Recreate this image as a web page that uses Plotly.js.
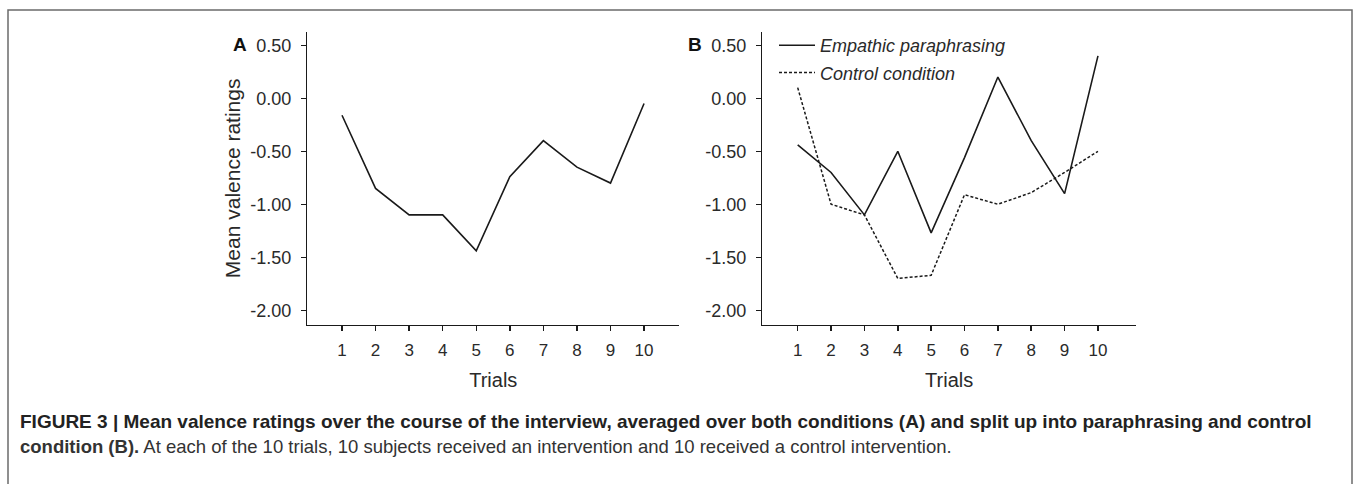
<!DOCTYPE html>
<html>
<head>
<meta charset="utf-8">
<script src="https://cdn.plot.ly/plotly-3.0.1.min.js"></script>
<style>
html,body{margin:0;padding:0;background:#fff;}
#chart{width:1356px;height:484px;}
</style>
</head>
<body>
<div id="chart"></div>
<script>
// ---- Data ----
var trials = [1, 2, 3, 4, 5, 6, 7, 8, 9, 10];
var bothConditions = [-0.16, -0.85, -1.10, -1.10, -1.44, -0.74, -0.40, -0.65, -0.80, -0.05];
var empathicParaphrasing = [-0.44, -0.70, -1.10, -0.50, -1.27, -0.56, 0.20, -0.40, -0.90, 0.40];
var controlCondition = [0.10, -1.00, -1.10, -1.70, -1.67, -0.91, -1.00, -0.89, -0.70, -0.50];
var seriesNames = ["Empathic paraphrasing", "Control condition"];
var yTickVals = [-2.0, -1.5, -1.0, -0.5, 0.0, 0.5];
var yTickText = ["-2.00", "-1.50", "-1.00", "-0.50", "0.00", "0.50"];
var xTickVals = [1, 2, 3, 4, 5, 6, 7, 8, 9, 10];
var xTickText = ["1", "2", "3", "4", "5", "6", "7", "8", "9", "10"];
var yTitle = "Mean valence ratings";
var xTitle = "Trials";
var panelLabels = ["A", "B"];
var captionBold1 = "FIGURE 3 | Mean valence ratings over the course of the interview, averaged over both conditions (A) and split up into paraphrasing and control";
var captionBold2 = "condition (B).";
var captionRest = " At each of the 10 trials, 10 subjects received an intervention and 10 received a control intervention.";

// ---- Layout helpers ----
var W = 1356, H = 484;
function px(x) { return x / W; }
function py(y) { return 1 - y / H; }

var FONT = "Liberation Sans, Arial, Helvetica, sans-serif";
var INK = "#1a1a1a";
var TXT = "#2a2a2a";

var traces = [
  {
    x: trials, y: bothConditions, xaxis: "x", yaxis: "y",
    type: "scatter", mode: "lines", showlegend: false,
    line: {color: INK, width: 1.6}
  },
  {
    x: trials, y: empathicParaphrasing, xaxis: "x2", yaxis: "y2",
    type: "scatter", mode: "lines", name: seriesNames[0], legendgroup: "a",
    line: {color: INK, width: 1.6}
  },
  {
    x: trials, y: controlCondition, xaxis: "x2", yaxis: "y2",
    type: "scatter", mode: "lines", name: seriesNames[1], legendgroup: "b",
    line: {color: INK, width: 1.5, dash: "3px,2px"}
  }
];

var yDomain = [py(324.7), py(32)];
var yRange = [-2.136, 0.625];

function xAxis(domain, range) {
  return {
    domain: domain, range: range, anchor: null,
    showline: true, linecolor: INK, linewidth: 1.5,
    showgrid: false, zeroline: false,
    ticks: "outside", ticklen: 5, tickwidth: 1.5, tickcolor: INK,
    tickmode: "array", tickvals: xTickVals, ticktext: xTickText,
    ticklabelstandoff: 4,
    tickfont: {family: FONT, size: 17, color: TXT},
    title: {text: xTitle, font: {family: FONT, size: 20, color: TXT}, standoff: 14},
    fixedrange: true
  };
}
function yAxis(domain, withTitle) {
  var a = {
    domain: domain, range: yRange,
    showline: true, linecolor: INK, linewidth: 1.5,
    showgrid: false, zeroline: false,
    ticks: "outside", ticklen: 5, tickwidth: 1.5, tickcolor: INK,
    tickmode: "array", tickvals: yTickVals, ticktext: yTickText,
    ticklabelstandoff: 6,
    tickfont: {family: FONT, size: 18, color: TXT},
    fixedrange: true
  };
  if (withTitle) {
    a.title = {text: yTitle, font: {family: FONT, size: 21, color: TXT}, standoff: 4};
  }
  return a;
}

var xa = xAxis([px(307.3), px(679.3)], [-0.034, 11.05]);
xa.anchor = "y";
var xb = xAxis([px(762.3), px(1136)], [-0.061, 11.14]);
xb.anchor = "y2";
var ya = yAxis(yDomain, true); ya.anchor = "x";
var yb = yAxis(yDomain, false); yb.anchor = "x2";

var layout = {
  width: W, height: H,
  margin: {l: 0, r: 0, t: 0, b: 0},
  paper_bgcolor: "#fff", plot_bgcolor: "rgba(0,0,0,0)",
  font: {family: FONT, color: TXT},
  xaxis: xa, yaxis: ya, xaxis2: xb, yaxis2: yb,
  showlegend: true,
  legend: {
    x: px(774), y: py(27), xanchor: "left", yanchor: "top",
    bgcolor: "rgba(0,0,0,0)", borderwidth: 0,
    font: {family: FONT, size: 18, color: TXT, style: "italic"},
    itemwidth: 36, traceorder: "grouped", tracegroupgap: 1
  },
  shapes: [
    {type: "path", xref: "paper", yref: "paper",
     path: "M " + px(8) + "," + (-0.05) + " L " + px(8) + "," + py(10) + " L " + px(1352) + "," + py(10) + " L " + px(1352) + "," + (-0.05),
     line: {color: "#6b6b6b", width: 1.5}}
  ],
  annotations: [
    {xref: "paper", yref: "paper", x: px(240), y: py(45), xanchor: "center", yanchor: "middle",
     text: "<b>" + panelLabels[0] + "</b>", showarrow: false, font: {family: FONT, size: 19, color: "#111"}},
    {xref: "paper", yref: "paper", x: px(695), y: py(45), xanchor: "center", yanchor: "middle",
     text: "<b>" + panelLabels[1] + "</b>", showarrow: false, font: {family: FONT, size: 19, color: "#111"}},
    {xref: "paper", yref: "paper", x: px(18), y: py(421), xanchor: "left", yanchor: "middle",
     text: "<b>" + captionBold1 + "</b>", showarrow: false, font: {family: FONT, size: 19, color: "#222"}},
    {xref: "paper", yref: "paper", x: px(18), y: py(446), xanchor: "left", yanchor: "middle",
     text: "<b>" + captionBold2 + "</b>" + captionRest, showarrow: false, font: {family: FONT, size: 18.5, color: "#333"}}
  ]
};

Plotly.newPlot("chart", traces, layout, {displayModeBar: false, staticPlot: true});
</script>
</body>
</html>
